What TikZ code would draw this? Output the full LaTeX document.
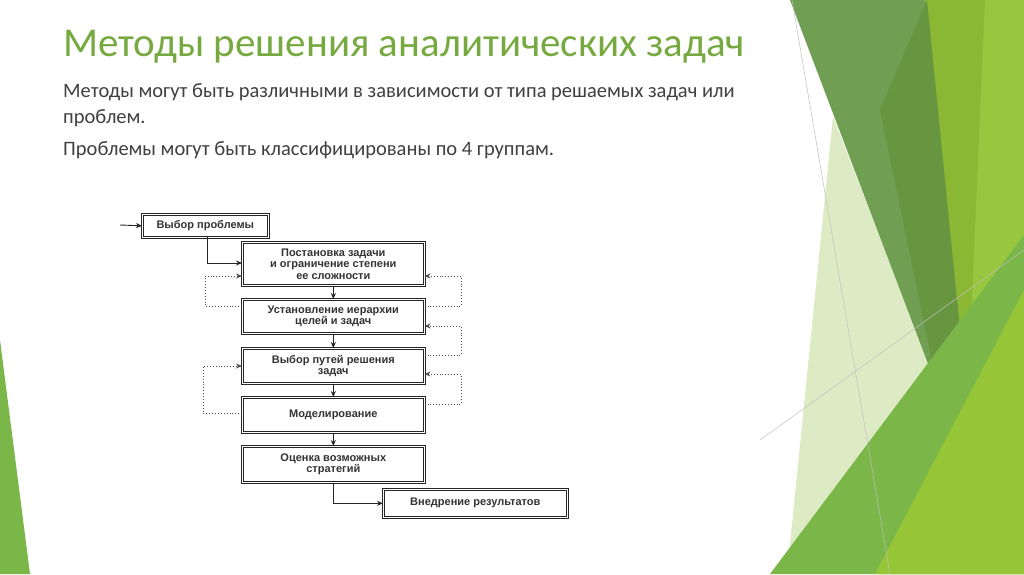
\documentclass[tikz,border=0pt]{standalone}
\usepackage{fontspec}
\setmainfont{Carlito}
\newfontfamily\boxfont{Liberation Sans}
\usetikzlibrary{arrows.meta}
\definecolor{ttl}{HTML}{76A93F}
\definecolor{txt}{HTML}{404040}
\begin{document}
\begin{tikzpicture}[x=1pt,y=-1pt,
  fbox/.style={draw=black!85,line width=0.6pt,double,double distance=1.3pt,font=\boxfont\bfseries\fontsize{11}{11.5}\selectfont,align=center,inner sep=0pt,anchor=north west,text=black!80},
  arr/.style={-{Stealth[length=6pt,width=5pt]},line width=0.9pt,black!85},
  dar/.style={-{Stealth[length=6pt,width=5pt]},dotted,line width=0.9pt,black!70}]
\useasboundingbox (0,0) rectangle (1024,574);
% background decoration
\fill[white] (0,0) rectangle (1024,574);
\fill[color={rgb,255:red,138;green,184;blue,52}] (920,0) -- (1024,0) -- (1024,574) -- (880,574) -- cycle;
\fill[color={rgb,255:red,152;green,198;blue,62}] (985,0) -- (1024,0) -- (1024,574) -- (960,574) -- cycle;
\fill[color={rgb,255:red,221;green,235;blue,196}] (833,117) -- (940,390) -- (787,574) -- cycle;
\fill[color={rgb,255:red,112;green,158;blue,82}] (790,0) -- (925,0) -- (962,350) -- (938,390) -- cycle;
\fill[color={rgb,255:red,104;green,150;blue,64}] (880,110) -- (927,0) -- (962,350) -- (938,390) -- cycle;
\fill[color={rgb,255:red,122;green,182;blue,72}] (770,574) -- (1024,235) -- (1024,574) -- cycle;
\fill[color={rgb,255:red,150;green,198;blue,55}] (875,574) -- (1024,290) -- (1024,574) -- cycle;
\fill[color={rgb,255:red,122;green,182;blue,72}] (0,340) -- (30,574) -- (0,574) -- cycle;
\draw[black!25,line width=0.5pt] (792,0) -- (890,574);
\draw[black!25,line width=0.5pt] (760,440) -- (1024,250);
% texts
\node[anchor=base west,text=ttl,font=\fontsize{41}{44}\selectfont,inner sep=0] (title) at (63,56) {Методы решения аналитических задач};
\node[anchor=base west,text=txt,font=\fontsize{20.5}{26}\selectfont,align=left,inner sep=0] (p1) at (63,123) {Методы могут быть различными в зависимости от типа решаемых задач или\\проблем.};
\node[anchor=base west,text=txt,font=\fontsize{20.5}{22}\selectfont,inner sep=0] (p2) at (63,155) {Проблемы могут быть классифицированы по 4 группам.};
% boxes
\node[fbox,minimum width=126pt,minimum height=23pt] (b0) at (142,214) {Выбор проблемы};
\node[fbox,minimum width=182pt,minimum height=43pt] (b1) at (242,242) {Постановка задачи\\и ограничение степени\\ее сложности};
\node[fbox,minimum width=182pt,minimum height=34pt] (b2) at (242,299) {Установление иерархии\\целей и задач};
\node[fbox,minimum width=182pt,minimum height=35pt] (b3) at (242,348) {Выбор путей решения\\задач};
\node[fbox,minimum width=182pt,minimum height=35pt] (b4) at (242,397) {Моделирование};
\node[fbox,minimum width=182pt,minimum height=36pt] (b5) at (242,446) {Оценка возможных\\стратегий};
\node[fbox,minimum width=184pt,minimum height=28pt] (b6) at (383,489) {Внедрение результатов};
\coordinate (in) at (120,225);
\draw[arr] (in) -- (b0.west);
\draw[arr] (207,237) |- (b1.west |- 0,263);
\draw[arr] (b1.south) -- (b2.north);
\draw[arr] (b2.south) -- (b3.north);
\draw[arr] (b3.south) -- (b4.north);
\draw[arr] (b4.south) -- (b5.north);
\draw[arr] (b5.south) |- (b6.west);
% dotted loops
\draw[dar] (b2.west |- 0,306) -| (205,276) -- (b1.west |- 0,276);
\draw[dar] (b2.east |- 0,306) -| (461,276) -- (b1.east |- 0,276);
\draw[dar] (b3.east |- 0,355) -| (461,326) -- (b2.east |- 0,326);
\draw[dar] (b4.east |- 0,404) -| (461,374) -- (b3.east |- 0,374);
\draw[dar] (b4.west |- 0,413) -| (203,366) -- (b3.west |- 0,366);
\end{tikzpicture}
\end{document}
